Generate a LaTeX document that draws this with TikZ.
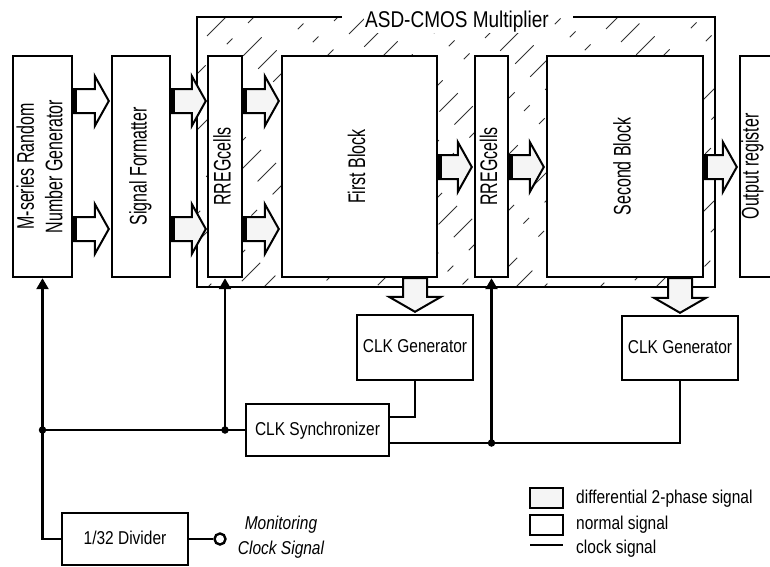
\documentclass[tikz,border=0pt]{standalone}
\usepackage{fontspec}
\setmainfont{Liberation Sans}
\usetikzlibrary{calc,arrows.meta}
\newcommand{\vtxt}[1]{\scalebox{1}[1.5]{\begin{tabular}{@{}c@{}}#1\end{tabular}}}
\newcommand{\htxt}[1]{\scalebox{1}[1.2]{\begin{tabular}{@{}c@{}}#1\end{tabular}}}
% block arrow (horizontal): #1 fill, #2 start, #3 tip
\newcommand{\harr}[3]{%
  \path let \p1=#2, \p2=#3 in [draw, line width=2pt, fill=#1]
    (\x1,\y1+12pt) -- (\x2-14pt,\y1+12pt) -- (\x2-14pt,\y1+25pt) -- (\x2,\y1)
    -- (\x2-14pt,\y1-25pt) -- (\x2-14pt,\y1-12pt) -- (\x1,\y1-12pt) -- cycle;
  \path let \p1=#2 in [fill=black] (\x1,\y1-13pt) rectangle (\x1+4pt,\y1+13pt);
}
% block arrow (downward): #1 fill, #2 start, #3 tip
\newcommand{\varr}[3]{%
  \path let \p1=#2, \p2=#3 in [draw, line width=2pt, fill=#1]
    (\x1-12pt,\y1) -- (\x1-12pt,\y2+15pt) -- (\x1-26pt,\y2+15pt) -- (\x1,\y2)
    -- (\x1+26pt,\y2+15pt) -- (\x1+12pt,\y2+15pt) -- (\x1+12pt,\y1) -- cycle;
}
\begin{document}
\begin{tikzpicture}[x=1pt,y=-1pt,
  box/.style={draw, line width=2.4pt, fill=white, inner sep=0pt},
  frame/.style={line width=2pt},
  hatch/.style={line width=1pt, black!80, dash pattern=on 26pt off 30pt on 8pt off 22pt},
  clk/.style={line width=2.4pt},
  clkarrow/.style={clk, -{Triangle[width=12pt,length=11pt]}},
  jdot/.style={circle, fill=black, inner sep=0pt, minimum size=7.5pt},
  vlab/.style={rotate=90, inner sep=0pt, font=\fontsize{16}{19}\selectfont},
  hlab/.style={inner sep=0pt, font=\fontsize{15.5}{21}\selectfont}]
\useasboundingbox (0,0) rectangle (770,566);
\fill[white] (0,0) rectangle (770,566);

% hatched multiplier frame
\begin{scope}
  \clip (197,17) rectangle (715,287);
  \foreach \i in {-100,-72,...,720} {
    \pgfmathsetmacro{\off}{mod(abs(\i)*7+50,61)}
    \draw[hatch] (\i-\off,287+\off) -- ++(330,-330);
  }
\end{scope}
\draw[frame] (342,17) -- (197,17) -- (197,287) -- (715,287) -- (715,17) -- (573,17);
\node[hlab, anchor=base, fill=white, inner sep=1pt, font=\fontsize{19}{22}\selectfont] (title) at (457,27) {\scalebox{1}[1.2]{ASD-CMOS Multiplier}};

% main boxes
\node[box, minimum width=59pt, minimum height=221pt] (m) at (42.5,166.5) {};
\node[box, minimum width=58pt, minimum height=221pt] (sf) at (141,166.5) {};
\node[box, minimum width=34pt, minimum height=221pt] (rr1) at (225,166.5) {};
\node[box, minimum width=155pt, minimum height=221pt] (fb) at (359.5,166.5) {};
\node[box, minimum width=33pt, minimum height=221pt] (rr2) at (491.5,166.5) {};
\node[box, minimum width=156pt, minimum height=221pt] (sb) at (625,166.5) {};
\node[box, minimum width=50pt, minimum height=221pt] (out) at (765,166.5) {};

\node[vlab] (mT) at (m) {\vtxt{M-series Random\\Number Generator}};
\node[vlab] (sfT) at (sf) {\vtxt{Signal Formatter}};
\node[vlab] (rr1T) at (rr1) {\vtxt{RREGcells}};
\node[vlab] (fbT) at (fb) {\vtxt{First Block}};
\node[vlab] (rr2T) at (rr2) {\vtxt{RREGcells}};
\node[vlab] (sbT) at (sb) {\vtxt{Second Block}};
\node[vlab] (outT) at (753,166.5) {\vtxt{Output register}};

% lower boxes
\node[box, minimum width=116pt, minimum height=65pt] (cg1) at (415,347.5) {};
\node[box, minimum width=116pt, minimum height=64pt] (cg2) at (680,348) {};
\node[box, minimum width=143pt, minimum height=52pt] (sync) at (317.5,430) {};
\node[box, minimum width=126pt, minimum height=52pt] (div) at (125,539) {};
\node[hlab] (cg1T) at (cg1) {\htxt{CLK Generator}};
\node[hlab] (cg2T) at (cg2) {\htxt{CLK Generator}};
\node[hlab] (syncT) at (sync) {\htxt{CLK Synchronizer}};
\node[hlab] (divT) at (div) {\htxt{1/32 Divider}};

% rows for block arrows
\coordinate (yA) at (0,101);
\coordinate (yB) at (0,229);
\coordinate (yC) at (0,167);

\harr{white}{(m.east |- yA)}{([xshift=-2pt]sf.west |- yA)}
\harr{white}{(m.east |- yB)}{([xshift=-2pt]sf.west |- yB)}
\harr{gray!8}{(sf.east |- yA)}{([xshift=-1pt]rr1.west |- yA)}
\harr{gray!8}{(sf.east |- yB)}{([xshift=-1pt]rr1.west |- yB)}
\harr{gray!8}{(rr1.east |- yA)}{([xshift=-2pt]fb.west |- yA)}
\harr{gray!8}{(rr1.east |- yB)}{([xshift=-2pt]fb.west |- yB)}
\harr{gray!8}{(fb.east |- yC)}{([xshift=-2pt]rr2.west |- yC)}
\harr{gray!8}{(rr2.east |- yC)}{([xshift=-2pt]sb.west |- yC)}
\harr{gray!8}{(sb.east |- yC)}{([xshift=-2pt]out.west |- yC)}
\varr{gray!8}{(cg1.north |- fb.south)}{([yshift=2pt]cg1.north)}
\varr{gray!8}{(cg2.north |- sb.south)}{([yshift=2pt]cg2.north)}

% clock network
\coordinate (j1) at (m.south |- sync.west);
\coordinate (j2) at (rr1.south |- sync.west);
\coordinate (s1) at ([yshift=13pt]sync.east);
\coordinate (s2) at ([yshift=-13pt]sync.east);
\coordinate (j3) at (rr2.south |- s2);
\node[circle, draw, line width=2.4pt, fill=white, minimum size=11pt, inner sep=0pt] (mon) at (220,539) {};

\draw[clkarrow] (j1) -- (m.south);
\draw[clkarrow] (j2) -- (rr1.south);
\draw[clkarrow] (j3) -- (rr2.south);
\draw[clk] (j1) -- (sync.west);
\draw[clk] (s1) -| (cg1.south);
\draw[clk] (s2) -- (j3) -| (cg2.south);
\draw[clk] (j1) |- (div.west);
\draw[clk] (div.east) -- (mon.west);
\node[jdot] (d1) at (j1) {};
\node[jdot] (d2) at (j2) {};
\node[jdot] (d3) at (j3) {};

\node[hlab, font=\fontsize{15.5}{21}\selectfont\itshape] (monT) at (281,537) {\htxt{Monitoring\\Clock Signal}};

% legend
\node[box, line width=2pt, fill=gray!8, minimum width=33pt, minimum height=20pt] (lg1) at (546.5,498) {};
\node[box, line width=2pt, minimum width=33pt, minimum height=20pt] (lg2) at (546.5,525) {};
\coordinate (lg3a) at (530,545);
\coordinate (lg3b) at (563,545);
\draw[clk] (lg3a) -- (lg3b);
\node[hlab, anchor=west] (lg1T) at (576,498) {\htxt{differential 2-phase signal}};
\node[hlab, anchor=west] (lg2T) at (576,524) {\htxt{normal signal}};
\node[hlab, anchor=west] (lg3T) at (576,548) {\htxt{clock signal}};
\end{tikzpicture}
\end{document}
